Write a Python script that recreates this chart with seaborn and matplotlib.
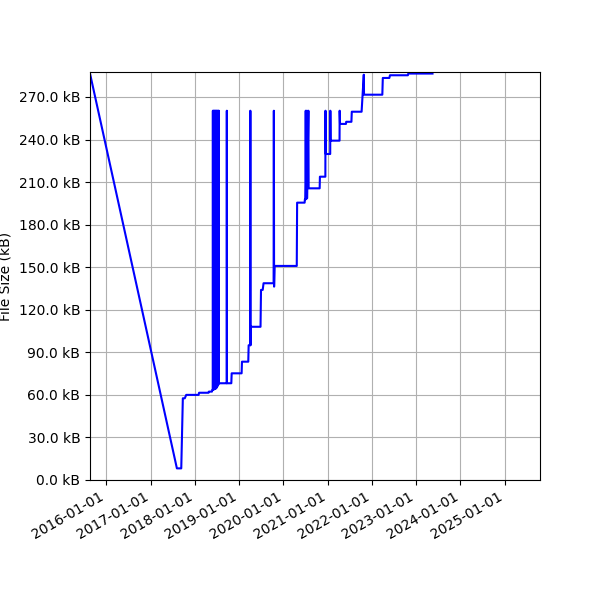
import matplotlib
matplotlib.use("Agg")
import matplotlib.pyplot as plt
import matplotlib.dates as mdates
from matplotlib.ticker import MultipleLocator, FuncFormatter
import seaborn as sns
import pandas as pd

# commit dates and file size (kB)
commit_dates = [
    "2015-08-20", "2017-08-06", "2017-09-11", "2017-09-24", "2017-10-10",
    "2017-10-22", "2018-02-01", "2018-02-05", "2018-04-24", "2018-04-27",
    "2018-05-22", "2018-05-25", "2018-05-29", "2018-05-30", "2018-05-31",
    "2018-06-05", "2018-06-06", "2018-06-11", "2018-06-12", "2018-06-17",
    "2018-06-18", "2018-06-23", "2018-06-24", "2018-06-29", "2018-06-30",
    "2018-07-05", "2018-07-06", "2018-07-12", "2018-07-13", "2018-07-18",
    "2018-07-19", "2018-09-21", "2018-09-22", "2018-09-23", "2018-10-29",
    "2018-11-01", "2019-01-22", "2019-01-25", "2019-03-18", "2019-03-21",
    "2019-04-03", "2019-04-04", "2019-04-05", "2019-04-08", "2019-06-27",
    "2019-07-01", "2019-07-15", "2019-07-22", "2019-10-13", "2019-10-15",
    "2019-10-17", "2019-10-21", "2020-04-21", "2020-04-24", "2020-06-25",
    "2020-06-27", "2020-07-03", "2020-07-04", "2020-07-05", "2020-07-14",
    "2020-07-15", "2020-07-26", "2020-07-28", "2020-10-27", "2020-10-29",
    "2020-12-13", "2020-12-14", "2020-12-16", "2021-01-22", "2021-01-23",
    "2021-01-25", "2021-04-09", "2021-04-10", "2021-04-13", "2021-06-01",
    "2021-06-03", "2021-07-16", "2021-07-19", "2021-10-08", "2021-10-26",
    "2021-10-28", "2022-03-28", "2022-04-01", "2022-05-25", "2022-05-30",
    "2022-10-25", "2022-10-28", "2023-05-16",
]
file_size_kb = [
    286.5, 8.2, 8.2, 57.6, 57.6,
    60.0, 60.0, 61.5, 61.5, 62.3,
    62.3, 63.4, 63.4, 260.3, 63.5,
    260.3, 63.8, 260.3, 64.0, 260.3,
    64.2, 260.3, 64.5, 260.3, 65.0,
    260.3, 66.0, 260.3, 67.0, 260.3,
    68.2, 68.2, 260.3, 68.2, 68.2,
    75.2, 75.2, 83.4, 83.4, 95.0,
    95.0, 260.3, 95.0, 108.0, 108.0,
    134.0, 134.0, 138.7, 138.7, 260.3,
    136.3, 150.9, 150.9, 195.5, 195.5,
    197.8, 197.8, 260.3, 198.0, 260.3,
    198.5, 260.3, 205.6, 205.6, 213.8,
    213.8, 260.3, 229.8, 229.8, 260.3,
    239.2, 239.2, 260.3, 251.0, 251.0,
    252.5, 252.5, 259.6, 259.6, 285.7,
    271.6, 271.6, 283.4, 283.4, 285.3,
    285.3, 286.5, 286.5,
]

df = pd.DataFrame({"date": pd.to_datetime(commit_dates), "size": file_size_kb})

fig, ax = plt.subplots(figsize=(6, 6), dpi=100)
sns.lineplot(data=df, x="date", y="size", estimator=None, sort=False,
             color="blue", linewidth=1.5, ax=ax)

ax.grid(True, color="#b0b0b0", linewidth=0.8)
ax.set_axisbelow(True)
ax.set_xlim(pd.Timestamp("2015-08-20"), pd.Timestamp("2025-10-19"))
ax.set_ylim(0, 287.6)
ax.yaxis.set_major_locator(MultipleLocator(30))
ax.yaxis.set_major_formatter(FuncFormatter(lambda v, _: f"{v:.1f} kB"))
ax.xaxis.set_major_locator(mdates.YearLocator())
ax.xaxis.set_major_formatter(mdates.DateFormatter("%Y-%m-%d"))
ax.set_xlabel("")
ax.set_ylabel("File Size (kB)")

fig.autofmt_xdate()
plt.subplots_adjust(left=0.15, right=0.9, top=0.88, bottom=0.2)
plt.savefig("out.png", dpi=100)
